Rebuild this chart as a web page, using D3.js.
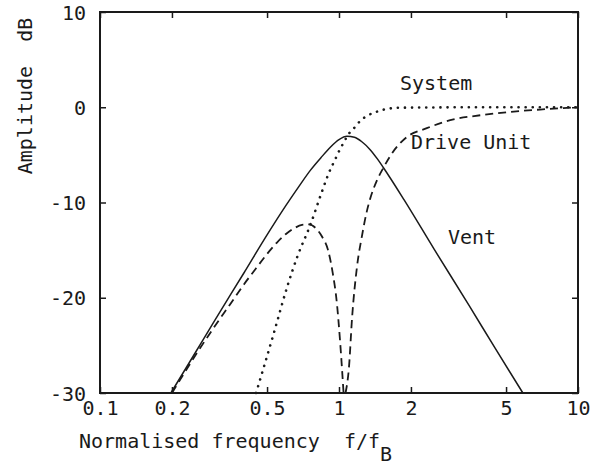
<!DOCTYPE html>
<html>
<head>
<meta charset="utf-8">
<script src="https://cdn.jsdelivr.net/npm/d3@7/dist/d3.min.js"></script>
<style>
  html, body { margin: 0; padding: 0; background: #fff; }
  svg { display: block; }
  text { font-family: "DejaVu Sans Mono", "Liberation Mono", monospace; fill: #1a1a1a; }
</style>
</head>
<body>
<svg id="chart" width="595" height="467"></svg>
<script>
// ---- data ----
const xTicks = [0.1, 0.2, 0.5, 1, 2, 5, 10];
const xTickLabels = ["0.1", "0.2", "0.5", "1", "2", "5", "10"];
const yTicks = [10, 0, -10, -20, -30];
const yTickLabels = ["10", "0", "-10", "-20", "-30"];

// Vent (solid)
const ventF  = [0.198, 0.25, 0.3, 0.4, 0.5, 0.6, 0.68, 0.76, 0.84, 0.92, 1.0, 1.08, 1.16, 1.25, 1.35, 1.45, 1.53, 1.87, 2.5, 3.5, 4.5, 5.88];
const ventDb = [-30, -25.8, -22.5, -17.4, -13.4, -10.3, -8.3, -6.6, -5.3, -4.2, -3.4, -3.05, -3.15, -3.65, -4.45, -5.45, -6.3, -9.7, -14.9, -20.8, -25.3, -30];

// Drive unit (dashed), below and above the null at fB
const driveLoF  = [0.2, 0.25, 0.3, 0.35, 0.4, 0.45, 0.5, 0.55, 0.6, 0.65, 0.7, 0.75, 0.8, 0.85, 0.9, 0.94, 0.98, 1.01, 1.045];
const driveLoDb = [-30, -26.1, -23.1, -20.7, -18.6, -16.9, -15.4, -14.2, -13.3, -12.7, -12.35, -12.3, -12.7, -13.6, -15.0, -17.3, -20.6, -24.5, -30];
const driveHiF  = [1.065, 1.1, 1.135, 1.19, 1.25, 1.30, 1.354, 1.44, 1.53, 1.67, 1.93, 2.33, 2.92, 3.9, 5.2, 6.94, 10];
const driveHiDb = [-30, -27.4, -22.0, -16.7, -13.4, -11.2, -9.5, -7.7, -6.4, -4.8, -3.1, -2.2, -1.36, -0.84, -0.49, -0.24, 0];

// System (dotted)
const sysF  = [0.45, 0.534, 0.608, 0.669, 0.76, 0.85, 0.9, 0.967, 1.01, 1.047, 1.09, 1.146, 1.22, 1.31, 1.41, 1.53, 1.67, 1.8, 2.5, 4, 10];
const sysDb = [-30, -23.7, -18.8, -15.7, -12.3, -8.8, -7.1, -5.4, -4.4, -3.7, -2.9, -2.3, -1.5, -0.9, -0.55, -0.26, -0.1, -0.05, -0.02, 0, 0];

// ---- chart ----
const svg = d3.select("#chart");
const x = d3.scaleLog().domain([0.1, 10]).range([100, 578]);
const y = d3.scaleLinear().domain([-30, 10]).range([393, 12]);
const ink = "#1a1a1a";

const line = d3.line()
  .x(d => x(d[0]))
  .y(d => y(d[1]))
  .curve(d3.curveMonotoneX);

const zip = (a, b) => a.map((v, i) => [v, b[i]]);

const plot = svg.append("g");

// curves
plot.append("path").datum(zip(ventF, ventDb))
  .attr("d", line).attr("fill", "none").attr("stroke", ink).attr("stroke-width", 1.5);

[zip(driveLoF, driveLoDb), zip(driveHiF, driveHiDb)].forEach(seg => {
  plot.append("path").datum(seg)
    .attr("d", line).attr("fill", "none").attr("stroke", ink)
    .attr("stroke-width", 1.8).attr("stroke-dasharray", "8,5");
});

plot.append("path").datum(zip(sysF, sysDb))
  .attr("d", line).attr("fill", "none").attr("stroke", ink)
  .attr("stroke-width", 2.6).attr("stroke-linecap", "round")
  .attr("stroke-dasharray", "0.1,7");

// frame
svg.append("rect")
  .attr("x", x(0.1)).attr("y", y(10))
  .attr("width", x(10) - x(0.1)).attr("height", y(-30) - y(10))
  .attr("fill", "none").attr("stroke", ink).attr("stroke-width", 2);

// axes (inward ticks on all four sides)
const fmtX = d => xTickLabels[xTicks.indexOf(d)];
const fmtY = d => yTickLabels[yTicks.indexOf(d)];

const gB = svg.append("g").attr("transform", `translate(0,${y(-30)})`)
  .call(d3.axisBottom(x).tickValues(xTicks).tickFormat(fmtX).tickSize(-6).tickPadding(0));
const gT = svg.append("g").attr("transform", `translate(0,${y(10)})`)
  .call(d3.axisTop(x).tickValues(xTicks).tickFormat("").tickSize(-6));
const gL = svg.append("g").attr("transform", `translate(${x(0.1)},0)`)
  .call(d3.axisLeft(y).tickValues(yTicks).tickFormat(fmtY).tickSize(-6).tickPadding(14));
const gR = svg.append("g").attr("transform", `translate(${x(10)},0)`)
  .call(d3.axisRight(y).tickValues(yTicks).tickFormat("").tickSize(-6));

[gB, gT, gL, gR].forEach(g => {
  g.select(".domain").remove();
  g.selectAll(".tick line").attr("stroke", ink).attr("stroke-width", 1.5);
  g.selectAll(".tick text").attr("font-size", 20)
    .attr("font-family", '"DejaVu Sans Mono", monospace').attr("fill", ink);
});
gB.selectAll(".tick text").attr("y", 22).attr("dy", 0);
gL.selectAll(".tick text").attr("dy", "0.36em");

// axis titles
svg.append("text")
  .attr("transform", "translate(32,96) rotate(-90)")
  .attr("text-anchor", "middle").attr("font-size", 20)
  .style("white-space", "pre")
  .text("Amplitude  dB");

const xt = svg.append("text")
  .attr("x", 79).attr("y", 448).attr("font-size", 20)
  .style("white-space", "pre");
xt.append("tspan").text("Normalised frequency  f/f");
xt.append("tspan").attr("dy", 13).text("B");

// series labels
svg.append("text").attr("x", 400).attr("y", 90).attr("font-size", 20).text("System");
svg.append("text").attr("x", 411).attr("y", 149).attr("font-size", 20).text("Drive Unit");
svg.append("text").attr("x", 448).attr("y", 244).attr("font-size", 20).text("Vent");
</script>
</body>
</html>
